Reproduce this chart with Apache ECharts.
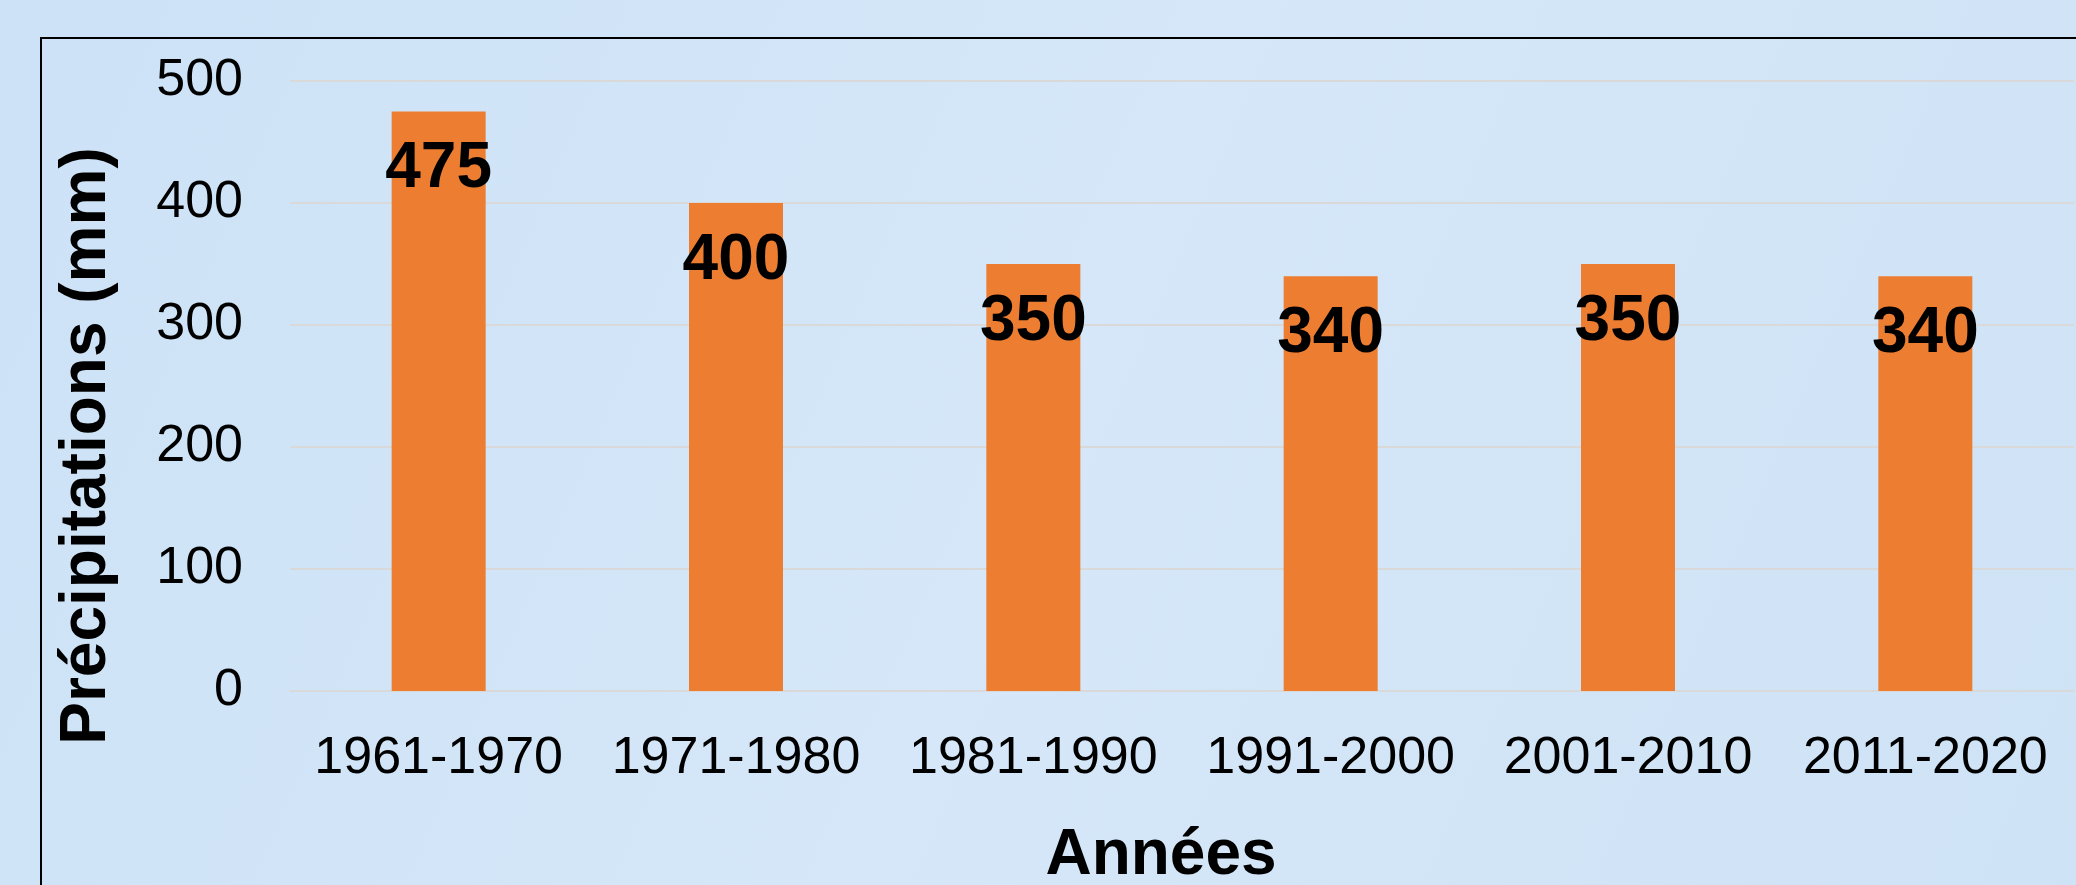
<!DOCTYPE html>
<html>
<head>
<meta charset="utf-8">
<script src="https://cdn.jsdelivr.net/npm/echarts@6/dist/echarts.min.js"></script>
<style>
html,body{margin:0;padding:0;background:#d3e5f7;}
#chart{width:2076px;height:885px;}
</style>
</head>
<body>
<div id="chart"></div>
<script>
const categories = ['1961-1970','1971-1980','1981-1990','1991-2000','2001-2010','2011-2020'];
const precipitations = [475, 400, 350, 340, 350, 340];
const yAxisTitle = 'Précipitations (mm)';
const xAxisTitle = 'Années';

const FONT = '"Liberation Sans", Arial, sans-serif';
const chart = echarts.init(document.getElementById('chart'), null, {renderer:'canvas'});
chart.setOption({
  backgroundColor: {
    type: 'linear', x: 0, y: 0, x2: 1, y2: 1,
    colorStops: [
      {offset: 0, color: '#cde2f7'},
      {offset: 0.5, color: '#d5e7f8'},
      {offset: 1, color: '#cfe3f6'}
    ]
  },
  animation: false,
  grid: {left: 290, top: 81, width: 1784, height: 610, containLabel: false},
  xAxis: {
    type: 'category',
    data: categories,
    axisLine: {show: true, lineStyle: {color: '#d9d9d9', width: 2}},
    axisTick: {show: false},
    axisLabel: {interval: 0, color: '#000', fontFamily: FONT, fontSize: 52, margin: 42, lineHeight: 52}
  },
  yAxis: {
    type: 'value',
    min: 0, max: 500, interval: 100,
    axisLine: {show: false},
    axisTick: {show: false},
    splitLine: {lineStyle: {color: '#d9d9d9', width: 2}},
    axisLabel: {color: '#000', fontFamily: FONT, fontSize: 52, margin: 47}
  },
  series: [{
    type: 'bar',
    data: precipitations,
    barWidth: 94,
    itemStyle: {color: '#ED7D31'},
    label: {
      show: true,
      position: 'insideTop',
      distance: 26,
      color: '#000',
      fontFamily: FONT,
      fontWeight: 'bold',
      fontSize: 64,
      lineHeight: 64
    }
  }],
  graphic: [
    {
      type: 'rect',
      shape: {x: 41, y: 38, width: 2200, height: 1000},
      style: {fill: 'none', stroke: '#000', lineWidth: 2},
      silent: true
    },
    {
      type: 'text',
      x: 87, y: 446,
      rotation: Math.PI / 2,
      style: {
        text: yAxisTitle,
        fontFamily: FONT, fontWeight: 'bold', fontSize: 64,
        fill: '#000', textAlign: 'center', textVerticalAlign: 'middle'
      }
    },
    {
      type: 'text',
      x: 1161, y: 856,
      style: {
        text: xAxisTitle,
        fontFamily: FONT, fontWeight: 'bold', fontSize: 64,
        fill: '#000', textAlign: 'center', textVerticalAlign: 'middle'
      }
    }
  ]
});
</script>
</body>
</html>
